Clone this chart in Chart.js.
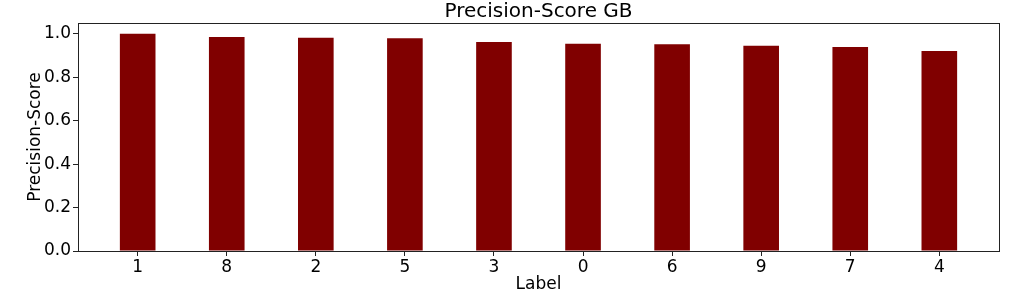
<!DOCTYPE html>
<html>
<head>
<meta charset="utf-8">
<script src="https://cdn.jsdelivr.net/npm/chart.js@4.4.1/dist/chart.umd.min.js"></script>
<style>
  html, body { margin: 0; padding: 0; background: #fff; }
  #wrap { width: 1013px; height: 303px; }
</style>
</head>
<body>
<div id="wrap"><canvas id="chart"></canvas></div>
<script>
// Data
const labels = ['1', '8', '2', '5', '3', '0', '6', '9', '7', '4'];
const precision = [1.0, 0.986, 0.982, 0.980, 0.963, 0.954, 0.952, 0.945, 0.940, 0.921];
const yTicks = [0, 0.2, 0.4, 0.6, 0.8, 1.0];
const chartTitle = 'Precision-Score GB';

const FONT = "'DejaVu Sans', sans-serif";

// full box round the plot, like matplotlib spines, and title centred over plot
const boxPlugin = {
  id: 'box',
  afterDraw(chart) {
    const { ctx, chartArea: a } = chart;
    ctx.save();
    ctx.strokeStyle = '#222';
    ctx.lineWidth = 1;
    ctx.strokeRect(Math.round(a.left) + 0.5, Math.round(a.top) + 0.5,
      Math.round(a.right - a.left), Math.round(a.bottom - a.top));
    ctx.fillStyle = '#000';
    ctx.font = '20px ' + FONT;
    ctx.textAlign = 'center';
    ctx.textBaseline = 'middle';
    ctx.fillText(chartTitle, (a.left + a.right) / 2, 12);
    ctx.restore();
  }
};

new Chart(document.getElementById('chart').getContext('2d'), {
  type: 'bar',
  data: {
    datasets: [{
      label: 'Precision-Score',
      data: labels.map((l, i) => ({ x: i, y: precision[i] })),
      backgroundColor: '#800000',
      borderWidth: 0,
      barPercentage: 0.4,
      categoryPercentage: 1.0
    }]
  },
  options: {
    responsive: true,
    maintainAspectRatio: false,
    animation: false,
    layout: { padding: { left: 0, right: 14, top: 23, bottom: 0 } },
    plugins: {
      legend: { display: false },
      tooltip: { enabled: false },
      title: { display: false }
    },
    scales: {
      x: {
        type: 'linear',
        offset: false,
        min: -0.67,
        max: 9.67,
        afterBuildTicks(scale) {
          scale.ticks = labels.map((l, i) => ({ value: i }));
        },
        afterFit(scale) { scale.height = 52; },
        grid: {
          drawOnChartArea: false,
          drawTicks: true,
          offset: false,
          tickLength: 5,
          tickColor: '#222'
        },
        border: { color: '#222' },
        ticks: {
          color: '#000',
          font: { family: FONT, size: 17 },
          padding: 1,
          maxRotation: 0,
          autoSkip: false,
          callback: (v) => labels[v]
        },
        title: {
          display: true,
          text: 'Label',
          color: '#000',
          font: { family: FONT, size: 17 },
          padding: { top: 0, bottom: 8 }
        }
      },
      y: {
        min: 0,
        max: 1.05,
        afterBuildTicks(scale) {
          scale.ticks = yTicks.map(v => ({ value: v }));
        },
        afterFit(scale) { scale.width = 78; },
        grid: {
          drawOnChartArea: false,
          drawTicks: true,
          tickLength: 5,
          tickColor: '#222'
        },
        border: { color: '#222' },
        ticks: {
          color: '#000',
          font: { family: FONT, size: 17 },
          padding: 2,
          callback: (v) => v.toFixed(1)
        },
        title: {
          display: true,
          text: 'Precision-Score',
          color: '#000',
          font: { family: FONT, size: 17 },
          padding: { top: 25, bottom: 0 }
        }
      }
    }
  },
  plugins: [boxPlugin]
});
</script>
</body>
</html>
